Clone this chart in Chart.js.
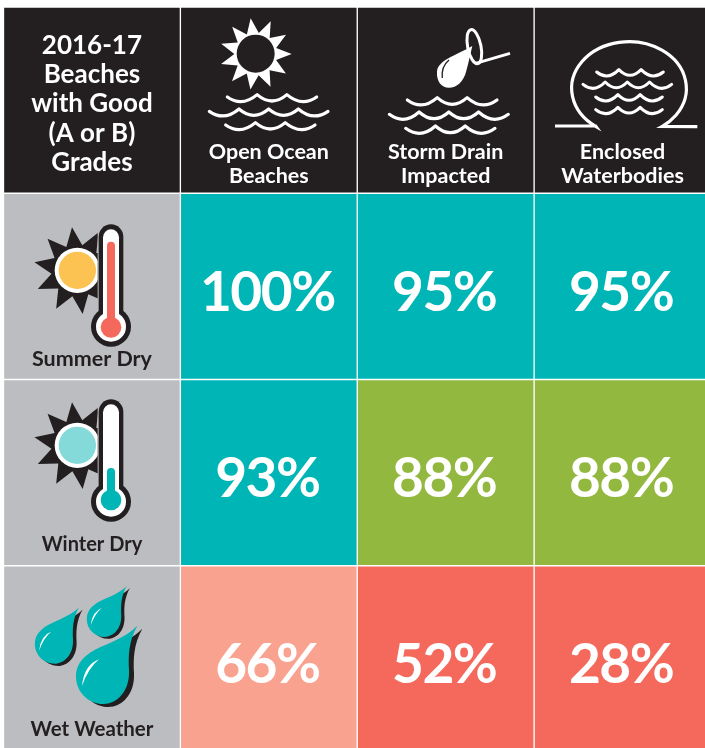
<!DOCTYPE html>
<html>
<head>
<meta charset="utf-8">
<title>Beaches with Good Grades</title>
<script src="https://cdn.jsdelivr.net/npm/chart.js@4"></script>
<style>
  html, body { margin: 0; padding: 0; background: #fff; overflow: hidden; }
  canvas { display: block; }
</style>
</head>
<body>
<canvas id="gradesChart" width="711" height="752"></canvas>
<script>
// ========== DATA ==========
const cornerTitle = ['2016-17', 'Beaches', 'with Good', '(A or B)', 'Grades'];
const columnLabels = [['Open Ocean', 'Beaches'], ['Storm Drain', 'Impacted'], ['Enclosed', 'Waterbodies']];
const rowLabels = ['Summer Dry', 'Winter Dry', 'Wet Weather'];
const summerDry = [100, 95, 95];
const winterDry = [93, 88, 88];
const wetWeather = [66, 52, 28];

const DARK = '#231f20';
const GREY = '#bcbdc0';
const TEAL = '#00b5b5';
const FONT = 'Lato, sans-serif';

function gradeColor(v) {
    if (v >= 90) return TEAL;
    if (v >= 80) return '#93b83f';
    if (v >= 60) return '#f9a28f';
    return '#f4695b';
}

function rowDataset(values, r) {
    return {
        data: [[r, r + 1]].concat(values.map(() => [r, r + 1])),
        backgroundColor: [GREY].concat(values.map(gradeColor)),
        values: values
    };
}

// ========== ICONS (drawn in 3x units) ==========
function waves(ctx, x0, x1, y, spans, depth) {
    const step = (x1 - x0) / spans;
    ctx.lineJoin = 'round';
    ctx.beginPath();
    ctx.moveTo(x0, y + 7);
    for (let i = 0; i < spans; i++) {
        const endY = i === spans - 1 ? y + 7 : y;
        ctx.quadraticCurveTo(x0 + step * (i + 0.5), y + depth, x0 + step * (i + 1), endY);
    }
    ctx.stroke();
}

function star(ctx, cx, cy, rays, outer, inner, startDeg) {
    ctx.beginPath();
    for (let i = 0; i < rays * 2; i++) {
        const r = i % 2 ? inner : outer;
        const a = (startDeg + i * 180 / rays) * Math.PI / 180;
        if (i === 0) ctx.moveTo(cx + r * Math.cos(a), cy + r * Math.sin(a));
        else ctx.lineTo(cx + r * Math.cos(a), cy + r * Math.sin(a));
    }
    ctx.closePath();
    ctx.fill();
}

function disc(ctx, x, y, r, color) {
    ctx.fillStyle = color;
    ctx.beginPath();
    ctx.arc(x, y, r, 0, Math.PI * 2);
    ctx.fill();
}

function tube(ctx, x, top, bulbY, halfW, bulbR, color) {
    ctx.fillStyle = color;
    ctx.beginPath();
    ctx.roundRect(x - halfW, top, halfW * 2, bulbY - top, halfW);
    ctx.fill();
    disc(ctx, x, bulbY, bulbR, color);
}

function sunIcon(ctx) {
    ctx.fillStyle = '#fff';
    star(ctx, 767, 162, 11, 108, 64, -98);
    disc(ctx, 767, 161, 57, DARK);
    ctx.strokeStyle = '#fff';
    ctx.lineWidth = 9.5;
    ctx.lineCap = 'round';
    waves(ctx, 682, 950, 284, 3, 38);
    waves(ctx, 628, 984, 327, 4, 38);
    waves(ctx, 677, 945, 368, 3, 38);
}

function drainIcon(ctx) {
    ctx.fillStyle = '#fff';
    ctx.beginPath();
    ctx.moveTo(352, 138);
    ctx.bezierCurveTo(345, 165, 342, 185, 334, 212);
    ctx.bezierCurveTo(326, 245, 305, 263, 282, 263);
    ctx.bezierCurveTo(258, 263, 244, 242, 246, 215);
    ctx.bezierCurveTo(249, 180, 300, 168, 352, 138);
    ctx.fill();
    ctx.strokeStyle = DARK;
    ctx.lineWidth = 4;
    ctx.beginPath();
    ctx.moveTo(282, 180);
    ctx.quadraticCurveTo(258, 200, 262, 234);
    ctx.stroke();
    ctx.strokeStyle = '#fff';
    ctx.lineWidth = 9;
    ctx.beginPath();
    ctx.ellipse(358, 140, 20, 52, -0.2, 0, Math.PI * 2);
    ctx.stroke();
    ctx.lineCap = 'butt';
    ctx.beginPath();
    ctx.moveTo(362, 190);
    ctx.lineTo(465, 160);
    ctx.stroke();
    ctx.lineCap = 'round';
    ctx.lineWidth = 9.5;
    waves(ctx, 157, 426, 293, 3, 40);
    waves(ctx, 103, 460, 336, 4, 40);
    waves(ctx, 152, 420, 378, 3, 40);
}

function enclosedIcon(ctx) {
    ctx.strokeStyle = '#fff';
    ctx.lineWidth = 9.5;
    ctx.lineCap = 'butt';
    ctx.lineJoin = 'miter';
    ctx.beginPath();
    ctx.moveTo(600, 378);
    ctx.lineTo(722, 378);
    ctx.ellipse(822, 265, 172, 140, 0, Math.PI * 0.695, Math.PI * 2.305);
    ctx.lineTo(1027, 380);
    ctx.stroke();
    ctx.lineCap = 'round';
    ctx.lineWidth = 9;
    waves(ctx, 725, 925, 209, 3, 34);
    waves(ctx, 684, 950, 246, 4, 34);
    waves(ctx, 722, 922, 284, 3, 34);
    waves(ctx, 722, 922, 322, 3, 34);
}

function thermometerIcon(ctx, sunColor, liquidColor, liquidTop, liquidBulbY) {
    ctx.save();
    ctx.beginPath();
    ctx.rect(0, 0, 293, 600);
    ctx.clip();
    ctx.fillStyle = DARK;
    star(ctx, 232, 242, 10, 131, 78, -97);
    disc(ctx, 232, 241, 68, '#fff');
    disc(ctx, 232, 241, 56, sunColor);
    ctx.restore();
    tube(ctx, 333, 103, 410, 37, 60, DARK);
    tube(ctx, 333, 118, 410, 24, 45, '#fff');
    tube(ctx, 333, liquidTop, liquidBulbY, 12, 31, liquidColor);
}

function drop(ctx, tipX, tipY, s, color, highlight) {
    ctx.save();
    ctx.translate(tipX, tipY);
    ctx.scale(s, s);
    ctx.translate(-412, -197);
    ctx.fillStyle = color;
    ctx.beginPath();
    ctx.moveTo(412, 197);
    ctx.bezierCurveTo(385, 245, 385, 290, 387, 330);
    ctx.bezierCurveTo(390, 395, 350, 432, 310, 432);
    ctx.bezierCurveTo(265, 432, 228, 395, 228, 350);
    ctx.bezierCurveTo(228, 305, 262, 280, 300, 262);
    ctx.bezierCurveTo(350, 240, 385, 225, 412, 197);
    ctx.fill();
    if (highlight) {
        ctx.fillStyle = '#fff';
        ctx.beginPath();
        ctx.moveTo(297, 298);
        ctx.quadraticCurveTo(252, 315, 246, 378);
        ctx.quadraticCurveTo(264, 325, 297, 298);
        ctx.fill();
    }
    ctx.restore();
}

function rainIcon(ctx) {
    const drops = [[237, 142, 0.72], [380, 78, 0.65], [412, 197, 1]];
    drops.forEach(d => {
        drop(ctx, d[0] + 15 * d[2], d[1] + 9 * d[2], d[2], DARK, false);
        drop(ctx, d[0], d[1], d[2], TEAL, true);
    });
}

function withIcon(ctx, x, y, fn) {
    ctx.save();
    ctx.translate(x, y);
    ctx.scale(1 / 3, 1 / 3);
    fn(ctx);
    ctx.restore();
}

// ========== TEXT AND ICONS ON TOP OF THE CELLS ==========
const cellContent = {
    id: 'cellContent',
    afterDatasetsDraw(chart) {
        const ctx = chart.ctx;
        const cell = (ds, i) => {
            const bar = chart.getDatasetMeta(ds).data[i];
            return { x: bar.x, top: Math.min(bar.y, bar.base), bottom: Math.max(bar.y, bar.base) };
        };
        ctx.save();
        ctx.textAlign = 'center';
        ctx.textBaseline = 'middle';

        // corner title
        const corner = cell(0, 0);
        ctx.fillStyle = '#fff';
        ctx.font = '700 26px ' + FONT;
        const titleYs = [39, 68, 97, 127, 156];
        cornerTitle.forEach((line, i) => ctx.fillText(line, corner.x, corner.top + titleYs[i]));

        // column headers
        ctx.font = '700 21.5px ' + FONT;
        columnLabels.forEach((lines, c) => {
            const h = cell(0, c + 1);
            ctx.fillText(lines[0], h.x, h.top + 145);
            ctx.fillText(lines[1], h.x, h.top + 169);
        });
        withIcon(ctx, 0, 0, sunIcon);
        withIcon(ctx, 355, 0, drainIcon);
        withIcon(ctx, 355, 0, enclosedIcon);

        // rows
        const rowIconFns = [
            c => thermometerIcon(c, '#fdc352', '#f4695b', 155, 412),
            c => thermometerIcon(c, '#84dad8', TEAL, 309, 405),
            rainIcon
        ];
        const rowIconY = [190, 365, 560];
        const rowTextY = [165.5, 165, 164];
        const rowTextSize = [21.5, 20, 20.5];
        rowLabels.forEach((label, r) => {
            const side = cell(r + 1, 0);
            ctx.fillStyle = DARK;
            ctx.font = '700 ' + rowTextSize[r] + 'px ' + FONT;
            ctx.fillText(label, side.x, side.top + rowTextY[r]);
            withIcon(ctx, 0, rowIconY[r], rowIconFns[r]);

            ctx.fillStyle = '#fff';
            ctx.font = '700 55px ' + FONT;
            ctx.letterSpacing = '-1.5px';
            chart.data.datasets[r + 1].values.forEach((v, c) => {
                const b = cell(r + 1, c + 1);
                ctx.fillText(v + '%', b.x - 1.5, (b.top + b.bottom) / 2 + 6.5);
            });
            ctx.letterSpacing = '0px';
        });
        ctx.restore();
    }
};

// ========== CHART ==========
new Chart(document.getElementById('gradesChart'), {
    type: 'bar',
    data: {
        labels: ['', ...columnLabels.map(l => l.join(' '))],
        datasets: [
            { data: ['', ...columnLabels].map(() => [0, 1]), backgroundColor: DARK },
            rowDataset(summerDry, 1),
            rowDataset(winterDry, 2),
            rowDataset(wetWeather, 3)
        ]
    },
    options: {
        responsive: false,
        animation: false,
        layout: { padding: { left: 3.5, top: 7, right: 0, bottom: 0 } },
        datasets: {
            bar: {
                grouped: false,
                barPercentage: 1,
                categoryPercentage: 1,
                borderColor: '#fff',
                borderWidth: 1,
                borderSkipped: false
            }
        },
        plugins: { legend: { display: false }, tooltip: { enabled: false } },
        scales: {
            x: { display: false },
            y: { display: false, reverse: true, min: 0, max: 4 }
        }
    },
    plugins: [cellContent]
});
</script>
</body>
</html>
